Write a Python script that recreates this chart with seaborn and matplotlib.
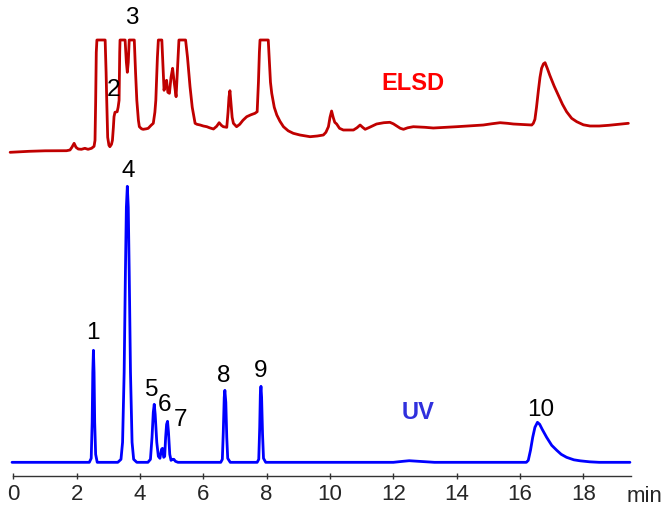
import numpy as np
import pandas as pd
import matplotlib
matplotlib.use("Agg")
import matplotlib.pyplot as plt
import seaborn as sns

# ---------------- data ----------------
uv_time = [-0.04, 2.40, 2.46, 2.49, 2.51, 2.53, 2.55, 2.57, 2.60, 2.65,
           3.30, 3.40, 3.45, 3.50, 3.54, 3.57, 3.60, 3.63, 3.66, 3.70, 3.75, 3.80, 3.90,
           4.25, 4.33, 4.38, 4.42, 4.45, 4.48, 4.53, 4.58, 4.63, 4.68, 4.71, 4.75, 4.78,
           4.81, 4.84, 4.87, 4.90, 4.94, 4.98, 5.03, 5.07, 5.12, 5.20,
           6.55, 6.60, 6.63, 6.66, 6.68, 6.71, 6.74, 6.77, 6.85,
           7.70, 7.75, 7.78, 7.80, 7.82, 7.84, 7.87, 7.90, 7.97,
           12.0, 12.3, 12.5, 12.8, 13.3,
           16.20, 16.26, 16.33, 16.40, 16.47, 16.55, 16.62, 16.70, 16.84, 17.0, 17.16,
           17.3, 17.47, 17.7, 17.9, 18.2, 18.5, 19.47]
uv_signal = [0, 0, 4, 40, 90, 112, 90, 40, 8, 0,
             0, 3, 20, 90, 190, 255, 276, 255, 190, 90, 20, 3, 0,
             0, 3, 25, 50, 58, 48, 20, 6, 4, 13, 14, 5, 6,
             25, 38, 41, 30, 8, 2, 3, 3, 1, 0,
             0, 3, 30, 65, 72, 60, 25, 4, 0,
             0, 3, 35, 68, 76, 65, 28, 4, 0,
             0, 1, 1.6, 1, 0,
             0, 2, 12, 25, 35, 40, 38, 33, 25, 17, 12,
             8, 5, 2.5, 1.5, 0.5, 0, 0]

elsd_time = [-0.10, 0.5, 1.0, 1.68, 1.79, 1.85, 1.92, 1.98, 2.05, 2.15, 2.26, 2.36, 2.47,
             2.55, 2.58, 2.60, 2.62, 2.64, 2.90, 2.93, 2.95, 2.98, 3.02, 3.05, 3.10, 3.13,
             3.16, 3.18, 3.21, 3.28, 3.31, 3.34, 3.36, 3.37, 3.53, 3.57, 3.60, 3.63, 3.66,
             3.82, 3.86, 3.90, 3.95, 3.98, 4.05, 4.10, 4.20, 4.26, 4.35, 4.42, 4.47, 4.50,
             4.55, 4.58, 4.69, 4.72, 4.76, 4.80, 4.84, 4.88, 4.93, 4.98, 5.03, 5.08, 5.14,
             5.18, 5.23, 5.44, 5.50, 5.58, 5.65, 5.74, 5.80, 5.90, 6.0, 6.11, 6.2, 6.32,
             6.42, 6.50, 6.57, 6.63, 6.74, 6.78, 6.81, 6.84, 6.87, 6.91, 6.95, 7.05, 7.15,
             7.25, 7.37, 7.50, 7.63, 7.70, 7.74, 7.77, 7.79, 8.05, 8.08, 8.12, 8.16, 8.24,
             8.32, 8.42, 8.53, 8.68, 8.84, 9.05, 9.37, 9.6, 9.79, 9.87, 9.95, 10.0, 10.05,
             10.10, 10.15, 10.21, 10.30, 10.42, 10.74, 10.85, 10.95, 11.03, 11.11, 11.25,
             11.47, 11.7, 11.89, 12.0, 12.11, 12.22, 12.32, 12.45, 12.63, 13.0, 13.26, 14.0,
             14.84, 15.1, 15.37, 15.6, 15.79, 16.37, 16.42, 16.47, 16.52, 16.58, 16.63,
             16.68, 16.74, 16.79, 16.86, 16.94, 17.08, 17.21, 17.34, 17.47, 17.63, 17.79,
             18.0, 18.21, 18.5, 18.8, 19.1, 19.42]
elsd_signal = [0, 1, 1.5, 1.6, 2.3, 5, 9, 5, 3.3, 3, 4, 3, 4,
               6, 12, 50, 100, 112.3, 112.3, 80, 52, 15, 7, 5.6, 8, 12,
               25, 35.6, 40, 40.6, 45, 52, 100, 112.3, 112.3, 90, 80, 90, 112.3,
               112.3, 80, 52, 32, 25.6, 23.5, 23, 23.5, 24, 27, 29, 40, 52,
               95, 112.3, 112.3, 90, 62, 70, 72, 60, 59, 75, 84, 70, 55.6,
               80, 112.3, 112.3, 95, 65.6, 45, 29, 28, 27.3, 26.3, 25.6, 24.5, 23.3,
               26, 29.6, 27, 25.6, 25, 40, 55, 61.6, 50, 35, 29, 25.6, 28,
               32, 35.6, 37.5, 39, 40.6, 70, 100, 112.3, 112.3, 95, 70, 59, 45,
               37.3, 31, 25.6, 21.5, 19, 17.3, 15.6, 16.3, 17.3, 20, 25.6, 35, 41.3,
               35, 30, 28.3, 24, 22.3, 22.3, 24.5, 27.3, 25, 23, 25,
               28.3, 29.6, 30, 28.5, 26.3, 24, 23, 24.5, 25.6, 25, 24.3, 25.6,
               27.3, 28.5, 29.6, 29, 28.3, 27.3, 29, 33, 45, 62, 75,
               84, 88.5, 89.6, 84, 77, 66, 57, 48, 40.6, 34, 30.6,
               27.5, 26.3, 26.3, 27, 28, 29]

peak_labels = ["1", "2", "3", "4", "5", "6", "7", "8", "9", "10"]
peak_label_t = [2.52, 3.15, 3.75, 3.62, 4.38, 4.76, 5.29, 6.65, 7.82, 16.66]
peak_label_y = [129, 372, 444, 291, 72, 57, 42, 86, 91, 52]

x_ticks = [0, 2, 4, 6, 8, 10, 12, 14, 16, 18]

# ---------------- styling / layout ----------------
ELSD_OFFSET = 310
sns.set_style("white")
plt.rcParams['font.family'] = ['Liberation Sans', 'DejaVu Sans']

fig = plt.figure(figsize=(6.65, 5.07), dpi=100)
ax = fig.add_axes([0.02, 0.0611, 0.9287, 0.9389])

uv_df = pd.DataFrame({"time": uv_time, "signal": uv_signal})
elsd_df = pd.DataFrame({"time": elsd_time,
                        "signal": np.array(elsd_signal) + ELSD_OFFSET})

sns.lineplot(data=elsd_df, x="time", y="signal", ax=ax, color="#C00000",
             linewidth=2.0, sort=False, estimator=None, clip_on=False)
sns.lineplot(data=uv_df, x="time", y="signal", ax=ax, color="#0000FF",
             linewidth=2.0, sort=False, estimator=None, clip_on=False)

ax.set_xlim(0, 19.5)
ax.set_ylim(-13.7, 462.3)

for lab, t, y in zip(peak_labels, peak_label_t, peak_label_y):
    ax.text(t, y, lab, ha="center", va="center", fontsize=17.5, color="black")

ax.text(12.62, 379, "ELSD", ha="center", va="center", fontsize=17,
        fontweight="bold", color="#FF0000")
ax.text(12.78, 50, "UV", ha="center", va="center", fontsize=17,
        fontweight="bold", color="#3030DD")

for s in ["left", "right", "top"]:
    ax.spines[s].set_visible(False)
ax.spines["bottom"].set_color("#333333")
ax.spines["bottom"].set_linewidth(1.0)
ax.set_yticks([])
ax.set_xticks(x_ticks)
ax.set_xticklabels([str(v) for v in x_ticks])
ax.tick_params(axis="x", direction="inout", length=4, width=1.0, color="#333333",
               labelsize=16, pad=4, bottom=True)
ax.set_xlabel("")
ax.set_ylabel("")
fig.text(645 / 665, 1 - 497 / 507, "min", ha="center", va="center", fontsize=16)

fig.savefig("out.png", dpi=100)
